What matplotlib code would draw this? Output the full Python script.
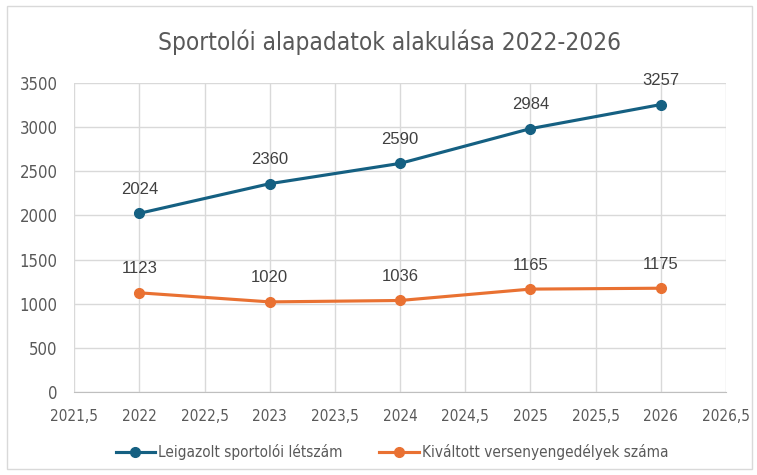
import matplotlib.pyplot as plt
from matplotlib.patches import Rectangle

years = [2022, 2023, 2024, 2025, 2026]
leigazolt = [2024, 2360, 2590, 2984, 3257]
kivaltott = [1123, 1020, 1036, 1165, 1175]
x_ticks = [2021.5, 2022, 2022.5, 2023, 2023.5, 2024, 2024.5, 2025, 2025.5, 2026, 2026.5]
y_ticks = [0, 500, 1000, 1500, 2000, 2500, 3000, 3500]

txt = '#595959'
narrow = dict(family='DejaVu Sans', stretch='condensed')

fig = plt.figure(figsize=(7.57, 4.75), dpi=100)
fig.patches.append(Rectangle((0.009, 0.012), 0.985, 0.976, transform=fig.transFigure,
                             fill=False, edgecolor='#d9d9d9', linewidth=1))
ax = fig.add_axes([0.098, 0.175, 0.861, 0.65])

ax.plot(years, leigazolt, color='#156082', linewidth=2.25, marker='o', markersize=7,
        label='Leigazolt sportolói létszám', zorder=3)
ax.plot(years, kivaltott, color='#E97132', linewidth=2.25, marker='o', markersize=7,
        label='Kiváltott versenyengedélyek száma', zorder=3)

for x, y in zip(years, leigazolt):
    ax.annotate(str(y), (x, y), xytext=(0, 14), textcoords='offset points', ha='center',
                fontsize=12, color='#404040', family='Liberation Sans')
for x, y in zip(years, kivaltott):
    ax.annotate(str(y), (x, y), xytext=(0, 14), textcoords='offset points', ha='center',
                fontsize=12, color='#404040', family='Liberation Sans')

ax.set_xlim(2021.5, 2026.5)
ax.set_ylim(0, 3500)
ax.set_xticks(x_ticks)
ax.set_xticklabels([str(t).replace('.', ',') if t % 1 else str(int(t)) for t in x_ticks])
ax.set_yticks(y_ticks)
ax.grid(True, color='#d9d9d9', linewidth=1)
ax.set_axisbelow(True)
for s in ['top', 'right', 'left']:
    ax.spines[s].set_visible(False)
ax.spines['bottom'].set_color('#bfbfbf')
ax.tick_params(length=0, labelcolor=txt)
ax.tick_params(axis='x', labelsize=11, pad=12)
ax.tick_params(axis='y', labelsize=12, pad=12)
for lab in ax.get_xticklabels() + ax.get_yticklabels():
    lab.set_family('DejaVu Sans')
    lab.set_stretch('condensed')

fig.text(0.514, 0.912, 'Sportolói alapadatok alakulása 2022-2026', ha='center', va='center',
         fontsize=17.5, color=txt, **narrow)
fig.legend(loc='center', bbox_to_anchor=(0.518, 0.048), ncol=2, frameon=False,
           labelcolor=txt, prop=dict(size=11, **narrow),
           handlelength=2.6, handletextpad=0.2, columnspacing=2.4)

fig.savefig('out.png', dpi=100)
